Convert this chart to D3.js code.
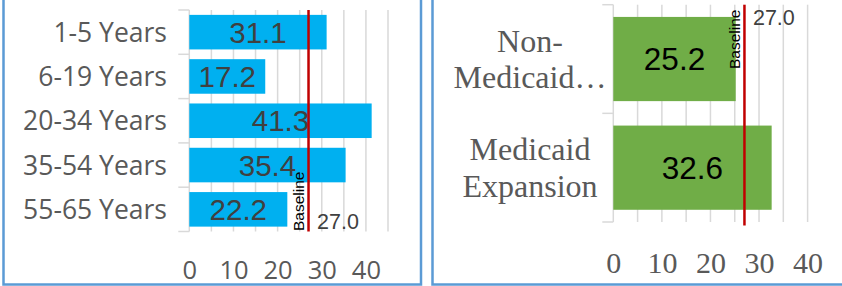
<!DOCTYPE html>
<html>
<head>
<meta charset="utf-8">
<script src="https://cdn.jsdelivr.net/npm/d3@7"></script>
<style>
  body { margin: 0; background: #fff; }
  svg { display: block; }
</style>
</head>
<body>
<svg id="chart" width="842" height="286"></svg>
<script>
// data
const ageGroups = ['1-5 Years', '6-19 Years', '20-34 Years', '35-54 Years', '55-65 Years']
const ageValues = [31.1, 17.2, 41.3, 35.4, 22.2]
const expansionGroups = [['Non-', 'Medicaid…'], ['Medicaid', 'Expansion']]
const expansionValues = [25.2, 32.6]
const baselineValue = 27.0
const baselineLabel = 'Baseline'
const tickLabels = [0, 10, 20, 30, 40]

let svg = d3.select('#chart')
let gridColor = '#d9d9d9'
let axisColor = '#bfbfbf'
let redLine = '#c00000'

// panel borders
svg.append('rect')
    .attr('x', 3.5).attr('y', -10)
    .attr('width', 417.5).attr('height', 294.5)
    .attr('fill', 'none').attr('stroke', '#5b9bd5').attr('stroke-width', 2.5)
svg.append('rect')
    .attr('x', 432.5).attr('y', -10)
    .attr('width', 430).attr('height', 294.5)
    .attr('fill', 'none').attr('stroke', '#5b9bd5').attr('stroke-width', 2.5)

function drawPanel(opts) {
    let g = svg.append('g')
    let x = d3.scaleLinear().domain([0, opts.max]).range(opts.xRange)
    let y = d3.scaleBand()
        .domain(opts.cats.map((d, i) => i))
        .range(opts.yRange)
        .paddingInner(opts.pad)
        .paddingOuter(opts.pad / 2)
    let top = opts.yRange[0]
    let bottom = opts.yRange[1]

    // vertical gridlines every 5
    g.append('g')
        .selectAll('line')
        .data(d3.range(5, opts.max + 1, 5))
        .enter()
        .append('line')
        .attr('x1', (d) => x(d)).attr('x2', (d) => x(d))
        .attr('y1', top).attr('y2', bottom)
        .attr('stroke', gridColor).attr('stroke-width', 1.5)

    // category axis with ticks between categories
    g.append('line')
        .attr('x1', x(0)).attr('x2', x(0))
        .attr('y1', top).attr('y2', bottom)
        .attr('stroke', gridColor).attr('stroke-width', 1.5)
    g.append('g')
        .selectAll('line')
        .data(d3.range(opts.cats.length + 1))
        .enter()
        .append('line')
        .attr('x1', x(0) - 11).attr('x2', x(0))
        .attr('y1', (i) => top + i * y.step())
        .attr('y2', (i) => top + i * y.step())
        .attr('stroke', gridColor).attr('stroke-width', 1.5)

    // bars
    g.append('g')
        .selectAll('rect')
        .data(opts.values)
        .enter()
        .append('rect')
        .attr('x', x(0))
        .attr('y', (d, i) => y(i))
        .attr('width', (d) => x(d) - x(0))
        .attr('height', y.bandwidth())
        .attr('fill', opts.color)

    // value labels
    g.append('g')
        .selectAll('text')
        .data(opts.values)
        .enter()
        .append('text')
        .attr('x', (d) => (x(0) + x(d)) / 2)
        .attr('y', (d, i) => y(i) + y.bandwidth() / 2)
        .attr('dy', '0.36em')
        .attr('text-anchor', 'middle')
        .attr('font-family', 'Liberation Sans, Arial, sans-serif')
        .attr('font-size', opts.valueSize)
        .attr('fill', opts.valueColor)
        .text((d) => d.toFixed(1))

    // baseline marker
    g.append('line')
        .attr('x1', x(baselineValue)).attr('x2', x(baselineValue))
        .attr('y1', top).attr('y2', opts.redBottom)
        .attr('stroke', redLine).attr('stroke-width', 2.5)
    g.append('text')
        .attr('transform', 'translate(' + (x(baselineValue) - 4.5) + ',' + opts.baselineTextY + ') rotate(-90)')
        .attr('font-family', 'Liberation Sans, Arial, sans-serif')
        .attr('font-size', 15.5)
        .attr('fill', '#000')
        .text(baselineLabel)
    g.append('text')
        .attr('x', x(baselineValue) + 8.5)
        .attr('y', opts.baselineValueY)
        .attr('font-family', 'Liberation Sans, Arial, sans-serif')
        .attr('font-size', 21.5)
        .attr('fill', '#404040')
        .text(baselineValue.toFixed(1))

    // value axis labels
    let axis = d3.axisBottom(x).tickValues(tickLabels).tickSize(0)
    let ax = g.append('g')
        .attr('transform', 'translate(0,' + opts.tickY + ')')
        .call(axis)
    ax.select('.domain').remove()
    ax.selectAll('text')
        .attr('y', 0).attr('dy', 0)
        .attr('font-family', opts.tickFont)
        .attr('font-size', opts.tickSize)
        .attr('fill', '#595959')

    return { g: g, x: x, y: y }
}

// left panel: age groups
let left = drawPanel({
    cats: ageGroups, values: ageValues, max: 45,
    xRange: [189.3, 388], yRange: [10, 231.5], pad: 0.22,
    color: '#00b0f0', valueSize: 29.5, valueColor: '#404040',
    redBottom: 231.5, baselineTextY: 231, baselineValueY: 229,
    tickY: 279, tickFont: 'Open Sans, sans-serif', tickSize: 25.5
})
left.g.append('g')
    .selectAll('text')
    .data(ageGroups)
    .enter()
    .append('text')
    .attr('x', 167)
    .attr('y', (d, i) => left.y(i) + left.y.bandwidth() / 2)
    .attr('dy', '0.36em')
    .attr('text-anchor', 'end')
    .attr('font-family', 'Open Sans, sans-serif')
    .attr('font-size', 26.5)
    .attr('fill', '#595959')
    .text((d) => d)

// right panel: medicaid expansion
let right = drawPanel({
    cats: expansionGroups, values: expansionValues, max: 40,
    xRange: [613.3, 807.6], yRange: [4.7, 222], pad: 0.225,
    color: '#70ad47', valueSize: 31.5, valueColor: '#000',
    redBottom: 225.5, baselineTextY: 69, baselineValueY: 25,
    tickY: 273, tickFont: 'Liberation Serif, serif', tickSize: 30
})
let catText = right.g.append('g')
    .selectAll('text')
    .data(expansionGroups)
    .enter()
    .append('text')
    .attr('text-anchor', 'middle')
    .attr('font-family', 'Liberation Serif, serif')
    .attr('font-size', 32)
    .attr('fill', '#595959')
catText.selectAll('tspan')
    .data((d, i) => d.map((t, j) => ({ t: t, j: j, i: i, n: d.length })))
    .enter()
    .append('tspan')
    .attr('x', 530)
    .attr('y', (d) => right.y(d.i) + right.y.bandwidth() / 2 + (d.j - (d.n - 1) / 2) * 36.6)
    .attr('dy', '0.34em')
    .text((d) => d.t)
</script>
</body>
</html>
